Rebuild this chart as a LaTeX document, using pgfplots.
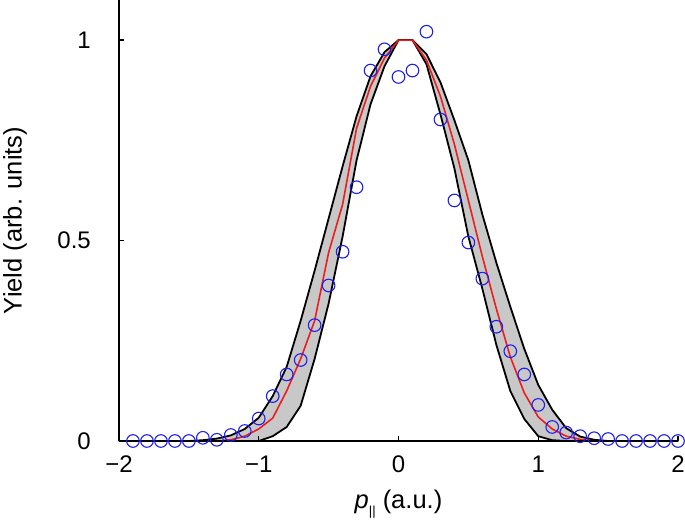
\documentclass[border=0pt]{standalone}
\usepackage{fontspec}
\setmainfont{Liberation Sans}
\usepackage{pgfplots}
\pgfplotsset{compat=1.18}
\definecolor{bandgray}{RGB}{200,200,200}
\definecolor{cblue}{RGB}{30,30,235}
\definecolor{cred}{RGB}{235,30,30}
\begin{document}
\begin{tikzpicture}
\begin{axis}[
  at={(0pt,0pt)}, anchor=south west,
  scale only axis, width=559pt, height=441pt,
  xmin=-2, xmax=2, ymin=0, ymax=1.1,
  axis x line*=bottom, axis y line*=left,
  axis line style={line width=1.8pt, black},
  axis on top,
  clip=false,
  xtick={-2,-1,0,1,2}, xticklabels={−2,−1,0,1,2},
  ytick={0,0.5,1}, yticklabels={0,0.5,1},
  tick align=inside, major tick length=5pt,
  tick style={line width=1.5pt, black},
  ticklabel style={font=\fontsize{24}{28}\selectfont},
  xticklabel style={anchor=north, inner sep=0pt, yshift=-15pt},
  yticklabel style={anchor=east, inner sep=0pt, xshift=-28pt},
  xlabel={{\itshape p}\raisebox{-0.3em}{\fontsize{13}{13}\selectfont ||}\ (a.u.)},
  xlabel style={at={(axis description cs:0.5,-0.143)}, anchor=center, font=\fontsize{25.5}{30}\selectfont},
  ylabel={Yield (arb. units)},
  ylabel style={at={(axis description cs:-0.186,0.5)}, anchor=center, font=\fontsize{25.5}{30}\selectfont},
]
% outer boundary, filled gray
\addplot[fill=bandgray, draw=none] coordinates {
(-2,0) (-1.5,0) (-1.4,0.002) (-1.3,0.006) (-1.2,0.014) (-1.1,0.03) (-1.0,0.058) (-0.9,0.112) (-0.8,0.185) (-0.7,0.30) (-0.6,0.425) (-0.5,0.555) (-0.4,0.685) (-0.3,0.81) (-0.2,0.91) (-0.1,0.97) (0,1) (0.1,1) (0.2,0.965) (0.3,0.895) (0.4,0.80) (0.5,0.70) (0.6,0.565) (0.7,0.445) (0.8,0.335) (0.9,0.23) (1.0,0.14) (1.1,0.078) (1.2,0.032) (1.3,0.011) (1.4,0.003) (1.5,0) (2,0)
} \closedcycle;
% inner boundary, filled white
\addplot[fill=white, draw=none] coordinates {
(-2,0) (-1.0,0) (-0.9,0.012) (-0.8,0.035) (-0.7,0.088) (-0.6,0.205) (-0.5,0.343) (-0.4,0.51) (-0.3,0.70) (-0.2,0.84) (-0.1,0.935) (0,1) (0.1,1) (0.2,0.94) (0.3,0.815) (0.4,0.68) (0.5,0.51) (0.6,0.38) (0.7,0.24) (0.8,0.125) (0.9,0.055) (1.0,0.012) (1.1,0.002) (1.2,0) (2,0)
} \closedcycle;
% outer line
\addplot[black, line width=1.8pt, line join=round] coordinates {
(-2,0) (-1.5,0) (-1.4,0.002) (-1.3,0.006) (-1.2,0.014) (-1.1,0.03) (-1.0,0.058) (-0.9,0.112) (-0.8,0.185) (-0.7,0.30) (-0.6,0.425) (-0.5,0.555) (-0.4,0.685) (-0.3,0.81) (-0.2,0.91) (-0.1,0.97) (0,1) (0.1,1) (0.2,0.965) (0.3,0.895) (0.4,0.80) (0.5,0.70) (0.6,0.565) (0.7,0.445) (0.8,0.335) (0.9,0.23) (1.0,0.14) (1.1,0.078) (1.2,0.032) (1.3,0.011) (1.4,0.003) (1.5,0) (2,0)
};
% inner line
\addplot[black, line width=1.8pt, line join=round] coordinates {
(-2,0) (-1.0,0) (-0.9,0.012) (-0.8,0.035) (-0.7,0.088) (-0.6,0.205) (-0.5,0.343) (-0.4,0.51) (-0.3,0.70) (-0.2,0.84) (-0.1,0.935) (0,1) (0.1,1) (0.2,0.94) (0.3,0.815) (0.4,0.68) (0.5,0.51) (0.6,0.38) (0.7,0.24) (0.8,0.125) (0.9,0.055) (1.0,0.012) (1.1,0.002) (1.2,0) (2,0)
};
% red model curve
\addplot[cred, line width=1.6pt, line join=round] coordinates {
(-2,0) (-1.3,0) (-1.2,0.003) (-1.1,0.012) (-1.0,0.03) (-0.9,0.057) (-0.8,0.125) (-0.7,0.205) (-0.6,0.30) (-0.5,0.47) (-0.4,0.59) (-0.3,0.78) (-0.2,0.885) (-0.1,0.955) (0,1) (0.1,1) (0.2,0.95) (0.3,0.86) (0.4,0.74) (0.5,0.60) (0.6,0.46) (0.7,0.33) (0.8,0.21) (0.9,0.12) (1.0,0.06) (1.1,0.03) (1.2,0.012) (1.3,0.004) (1.4,0) (2,0)
};
% data points
\addplot[only marks, mark=o, mark size=6.3pt, mark options={cblue, line width=1.1pt}] coordinates {
(-1.9,0) (-1.8,0) (-1.7,0) (-1.6,0) (-1.5,0) (-1.4,0.008) (-1.3,0.003) (-1.2,0.015) (-1.1,0.025) (-1.0,0.056) (-0.9,0.112) (-0.8,0.166) (-0.7,0.202) (-0.6,0.289) (-0.5,0.388) (-0.4,0.472) (-0.3,0.633) (-0.2,0.924) (-0.1,0.977) (0.0,0.908) (0.1,0.924) (0.2,1.021) (0.3,0.802) (0.4,0.600) (0.5,0.495) (0.6,0.405) (0.7,0.285) (0.8,0.224) (0.9,0.166) (1.0,0.090) (1.1,0.035) (1.2,0.021) (1.3,0.012) (1.4,0.007) (1.5,0.005) (1.6,0) (1.7,0) (1.8,0) (1.9,0) (2.0,0)
};
\end{axis}
\pgfresetboundingbox
\path[use as bounding box] (-119pt,-86pt) rectangle (566pt,441pt);
\end{tikzpicture}
\end{document}
